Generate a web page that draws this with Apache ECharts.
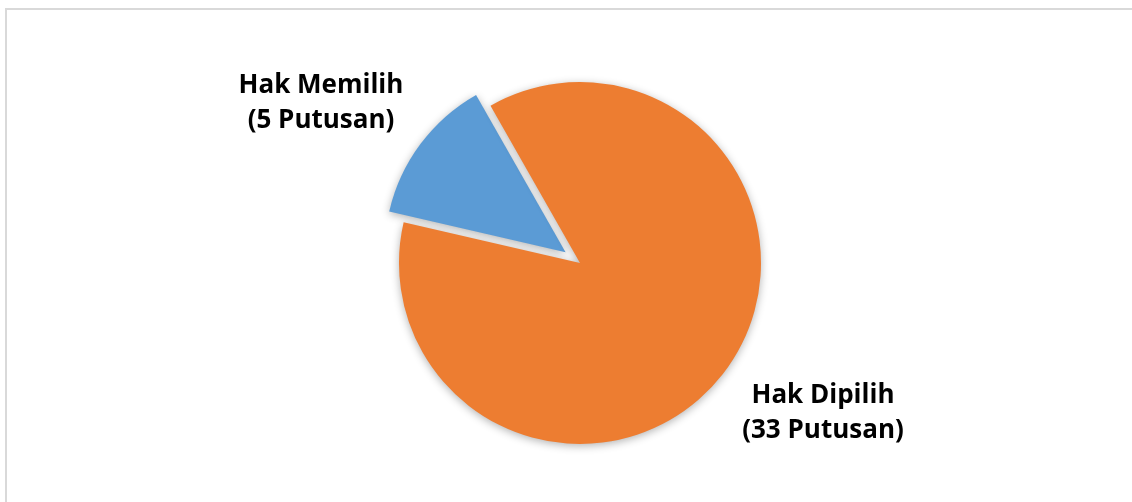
<!DOCTYPE html>
<html>
<head>
<meta charset="utf-8">
<script src="https://cdn.jsdelivr.net/npm/echarts@6/dist/echarts.min.js"></script>
<style>
  html, body { margin: 0; padding: 0; background: #ffffff; }
  #chart { width: 1132px; height: 502px; }
</style>
</head>
<body>
<div id="chart"></div>
<script>
// Putusan counts per category
const categories = ['Hak Memilih', 'Hak Dipilih'];
const values = [5, 33];
const unit = 'Putusan';
const colors = ['#5B9BD5', '#ED7D31'];

// label centres (px) for each slice
const labelSpots = [[321, 103], [823, 413]];

const chart = echarts.init(document.getElementById('chart'), null, { renderer: 'canvas' });

const data = categories.map((name, i) => ({
  name: name,
  value: values[i],
  selected: i === 0,
  itemStyle: { color: colors[i] }
}));

// slice captions, built from the same names and values as the slices
const captions = categories.map((name, i) => ({
  type: 'text',
  x: labelSpots[i][0],
  y: labelSpots[i][1],
  silent: true,
  style: {
    text: name + '\n(' + values[i] + ' ' + unit + ')',
    fontFamily: 'Open Sans',
    fontWeight: 'bold',
    fontSize: 26,
    lineHeight: 35,
    fill: '#000000',
    align: 'center',
    verticalAlign: 'middle'
  }
}));

chart.setOption({
  animation: false,
  backgroundColor: '#ffffff',
  graphic: [{
    type: 'rect',
    shape: { x: 6, y: 9, width: 1140, height: 510 },
    style: { fill: 'none', stroke: '#d9d9d9', lineWidth: 2 },
    silent: true
  }].concat(captions),
  series: [{
    type: 'pie',
    center: [580, 263],
    radius: [0, 181],
    startAngle: 167,
    clockwise: true,
    selectedMode: 'single',
    selectedOffset: 18,
    data: data,
    itemStyle: {
      borderWidth: 0,
      shadowBlur: 9,
      shadowColor: 'rgba(0,0,0,0.3)',
      shadowOffsetY: 2
    },
    select: { itemStyle: { borderWidth: 0 } },
    emphasis: { disabled: true },
    label: { show: false },
    labelLine: { show: false }
  }]
});
</script>
</body>
</html>
